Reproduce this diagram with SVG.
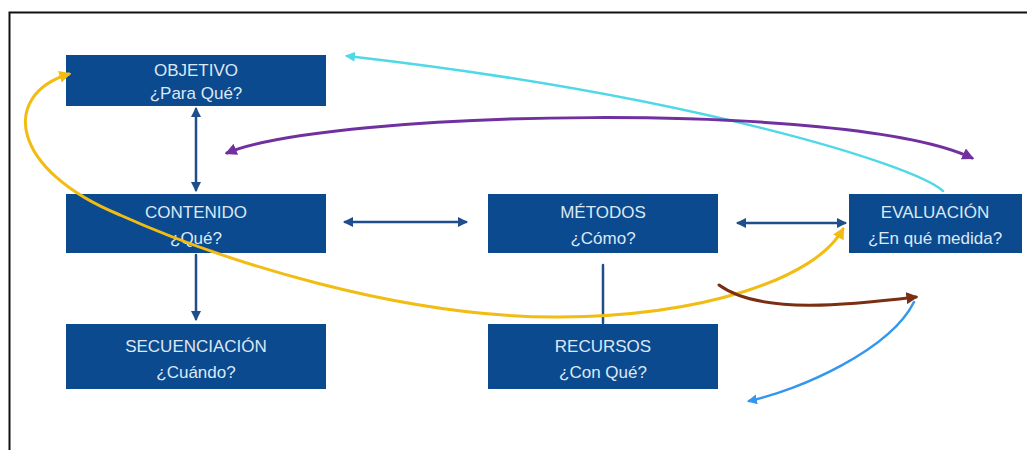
<svg xmlns="http://www.w3.org/2000/svg" width="1027" height="450" viewBox="0 0 1027 450">
<style>
.box{fill:#0b4a8e}
.t{font-family:"Liberation Sans",Arial,sans-serif;font-size:17px;fill:#dce8f6;text-anchor:middle}
.c{fill:none;stroke-linecap:round}
.db{stroke:#1f4e8c;stroke-width:2.5}
</style>
<defs>
<marker id="mdb" viewBox="0 0 10 10" refX="8" refY="5" markerWidth="4" markerHeight="4" orient="auto-start-reverse"><path d="M0,0 L10,5 L0,10 z" fill="#1f4e8c"/></marker>
<marker id="mcy" viewBox="0 0 10 10" refX="8" refY="5" markerWidth="4" markerHeight="4" orient="auto-start-reverse"><path d="M0,0 L10,5 L0,10 z" fill="#4fd8e6"/></marker>
<marker id="mpu" viewBox="0 0 10 10" refX="8" refY="5" markerWidth="4" markerHeight="4" orient="auto-start-reverse"><path d="M0,0 L10,5 L0,10 z" fill="#7030a0"/></marker>
<marker id="mye" viewBox="0 0 10 10" refX="8" refY="5" markerWidth="4" markerHeight="4" orient="auto-start-reverse"><path d="M0,0 L10,5 L0,10 z" fill="#f2bd12"/></marker>
<marker id="mbr" viewBox="0 0 10 10" refX="8" refY="5" markerWidth="4" markerHeight="4" orient="auto-start-reverse"><path d="M0,0 L10,5 L0,10 z" fill="#7a2e12"/></marker>
<marker id="mbl" viewBox="0 0 10 10" refX="8" refY="5" markerWidth="4" markerHeight="4" orient="auto-start-reverse"><path d="M0,0 L10,5 L0,10 z" fill="#3496ec"/></marker>
</defs>
<rect width="1027" height="450" fill="#ffffff"/>
<path d="M9.5,450 V12.5 H1027" fill="none" stroke="#111" stroke-width="2"/>
<g id="objetivo"><rect class="box" x="66" y="55" width="260" height="51"/><text class="t" x="196" y="76">OBJETIVO</text><text class="t" x="196" y="99">¿Para Qué?</text></g>
<g id="contenido"><rect class="box" x="66" y="194" width="260" height="59"/><text class="t" x="196" y="218">CONTENIDO</text><text class="t" x="196" y="244">¿Qué?</text></g>
<g id="secuenciacion"><rect class="box" x="66" y="324" width="260" height="65"/><text class="t" x="196" y="352">SECUENCIACIÓN</text><text class="t" x="196" y="378">¿Cuándo?</text></g>
<g id="metodos"><rect class="box" x="488" y="194" width="230" height="59"/><text class="t" x="603" y="218">MÉTODOS</text><text class="t" x="603" y="244">¿Cómo?</text></g>
<g id="recursos"><rect class="box" x="488" y="324" width="230" height="65"/><text class="t" x="603" y="352">RECURSOS</text><text class="t" x="603" y="378">¿Con Qué?</text></g>
<g id="evaluacion"><rect class="box" x="849" y="194" width="173" height="59"/><text class="t" x="935" y="218">EVALUACIÓN</text><text class="t" x="935" y="244">¿En qué medida?</text></g>
<g id="connectors">
<path class="c db" d="M196,109 V190" marker-start="url(#mdb)" marker-end="url(#mdb)"/>
<path class="c db" d="M196,255 V319" marker-end="url(#mdb)"/>
<path class="c db" d="M345,222 H466" marker-start="url(#mdb)" marker-end="url(#mdb)"/>
<path class="c db" d="M738,223 H845" marker-start="url(#mdb)" marker-end="url(#mdb)"/>
<path class="c db" d="M603,265 V323"/>
<path class="c" stroke="#4fd8e6" stroke-width="2.5" d="M943,191 C915,165 690,95 347,56" marker-end="url(#mcy)"/>
<path class="c" stroke="#7030a0" stroke-width="3" d="M227,153 C330,110 850,100 972,158" marker-start="url(#mpu)" marker-end="url(#mpu)"/>
<path class="c" stroke="#f2bd12" stroke-width="3" d="M69,74 C0,95 10,170 120,215 C220,260 400,318 560,317 C700,316 815,280 843,229" marker-start="url(#mye)" marker-end="url(#mye)"/>
<path class="c" stroke="#7a2e12" stroke-width="3" d="M719,285 C760,315 850,305 916,297" marker-end="url(#mbr)"/>
<path class="c" stroke="#3496ec" stroke-width="2.5" d="M914,302 C890,350 800,390 749,401" marker-end="url(#mbl)"/>
</g>
</svg>
